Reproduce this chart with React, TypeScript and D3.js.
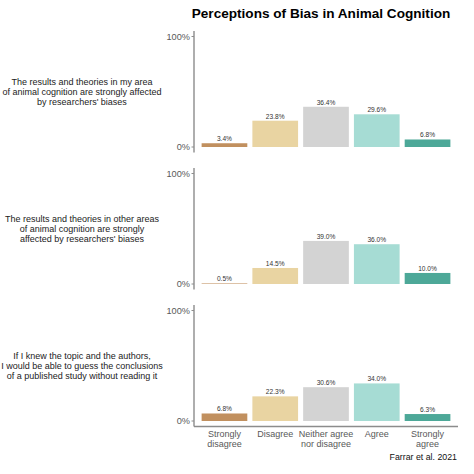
import React from "react";
import * as d3 from "d3";

const categories = ["Strongly disagree", "Disagree", "Neither agree nor disagree", "Agree", "Strongly agree"];
const categoryLines = [["Strongly", "disagree"], ["Disagree"], ["Neither agree", "nor disagree"], ["Agree"], ["Strongly", "agree"]];
const questionLines = [
  ["The results and theories in my area", "of animal cognition are strongly affected", "by researchers' biases"],
  ["The results and theories in other areas", "of animal cognition are strongly", "affected by researchers' biases"],
  ["If I knew the topic and the authors,", "I would be able to guess the conclusions", "of a published study without reading it"],
];
const myArea = [3.4, 23.8, 36.4, 29.6, 6.8];
const otherAreas = [0.5, 14.5, 39.0, 36.0, 10.0];
const guessConclusions = [6.8, 22.3, 30.6, 34.0, 6.3];
const panelValues = [myArea, otherAreas, guessConclusions];
const yTicks = [0, 100];
const colors = ["#C1905F", "#E9D4A2", "#D3D3D3", "#A6DCD4", "#4DA898"];
const title = "Perceptions of Bias in Animal Cognition";
const caption = "Farrar et al. 2021";

const FONT = "'Liberation Sans', Arial, sans-serif";

export default function App() {
  const x = d3.scaleBand<string>().domain(categories).range([194, 458]).paddingInner(0.1).paddingOuter(0.15);
  const panelTops = [36.5, 173.5, 310.5];
  const panelH = 110.5;
  const axisColor = "#8c8c8c";

  return (
    <svg width={474} height={474} style={{ position: "absolute", left: 0, top: 0, background: "#fff" }} fontFamily={FONT}>
      <text x={321} y={17.5} textAnchor="middle" fontSize={13.6} fontWeight="bold" fill="#000">{title}</text>
      {panelValues.map((vals, pi) => {
        const top = panelTops[pi];
        const y = d3.scaleLinear().domain([0, 100]).range([top + panelH, top]);
        const mid = (top + top + panelH) / 2;
        const lines = questionLines[pi];
        const lh = 9.8;
        return (
          <g key={pi}>
            {lines.map((l, li) => (
              <text key={li} x={82} y={mid + (li - (lines.length - 1) / 2) * lh + 3.2} textAnchor="middle" fontSize={9} fill="#222">{l}</text>
            ))}
            <line x1={194} x2={194} y1={y(-5)} y2={y(105)} stroke={axisColor} strokeWidth={1.4} />
            {yTicks.map((t) => (
              <g key={t}>
                <line x1={191.5} x2={194} y1={y(t)} y2={y(t)} stroke={axisColor} strokeWidth={1} />
                <text x={190} y={y(t) + 3.3} textAnchor="end" fontSize={9.2} fill="#595959">{t}%</text>
              </g>
            ))}
            {vals.map((v, i) => {
              const c = categories[i];
              const bx = x(c)!;
              return (
                <g key={c}>
                  <rect x={bx} y={y(v)} width={x.bandwidth()} height={y(0) - y(v)} fill={colors[i]} />
                  <text x={bx + x.bandwidth() / 2} y={y(v) - 2.2} textAnchor="middle" fontSize={6.6} fill="#333">{v.toFixed(1)}%</text>
                </g>
              );
            })}
            {pi === panelValues.length - 1 && (
              <g>
                <line x1={194} x2={458} y1={y(-5)} y2={y(-5)} stroke={axisColor} strokeWidth={1.4} />
                {categoryLines.map((ls, i) => (
                  <g key={i}>
                    {ls.map((l, li) => (
                      <text key={li} x={x(categories[i])! + x.bandwidth() / 2} y={436.5 + li * 10.3} textAnchor="middle" fontSize={9} fill="#595959">{l}</text>
                    ))}
                  </g>
                ))}
              </g>
            )}
          </g>
        );
      })}
      <text x={457} y={459.5} textAnchor="end" fontSize={8.8} fill="#111">{caption}</text>
    </svg>
  );
}
